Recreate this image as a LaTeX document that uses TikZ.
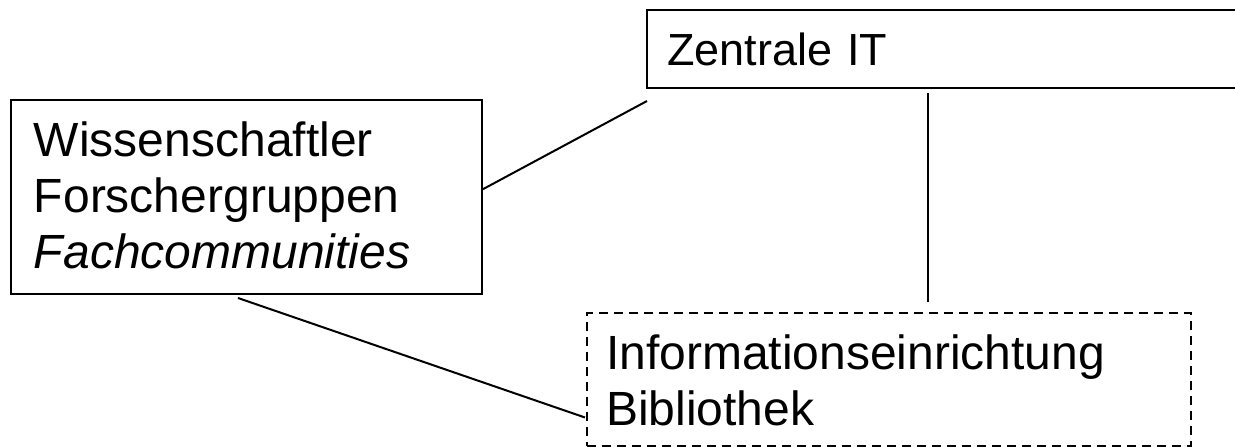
\documentclass[tikz,border=0pt]{standalone}
\usepackage{fontspec}
\setmainfont{Liberation Sans}
\usetikzlibrary{calc}
\tikzset{
	einheit/.style={draw,line width=2pt,rectangle,anchor=north west,align=left,inner ysep=0pt,
		font=\fontsize{48}{56}\selectfont},
	gestrichelt/.style={dash pattern=on 9pt off 6pt},
	verbindung/.style={line width=2pt}
}
\begin{document}
\begin{tikzpicture}[x=1pt,y=-1pt]
	\useasboundingbox (0,0) rectangle (1235,447);
	%boxes
	\node [einheit,inner xsep=20pt,text width=554pt,text height=55pt,text depth=23pt,
		font=\fontsize{45}{54}\selectfont] (zit) at (646,9) {Zentrale IT};
	\node [einheit,inner xsep=23pt,text width=425pt,text height=56pt,text depth=138pt] (wiss) at (10,99)
		{Wissenschaftler\\Forschergruppen\\\textit{Fachcommunities}};
	\node [einheit,gestrichelt,inner xsep=19pt,text width=566pt,text height=56pt,text depth=77pt] (info) at (586,312)
		{Informationseinrichtung\\Bibliothek};
	%lines
	\draw [verbindung] ($(wiss.north east)!0.46!(wiss.south east)$) -- ($(zit.south west)+(1,12)$);
	\draw [verbindung] ($(zit.south west)+(282,4)$) -- ($(info.north west)+(342,-10)$);
	\draw [verbindung] ($(wiss.south west)+(228,3)$) -- ($(info.west)+(-1,38)$);
\end{tikzpicture}
\end{document}
